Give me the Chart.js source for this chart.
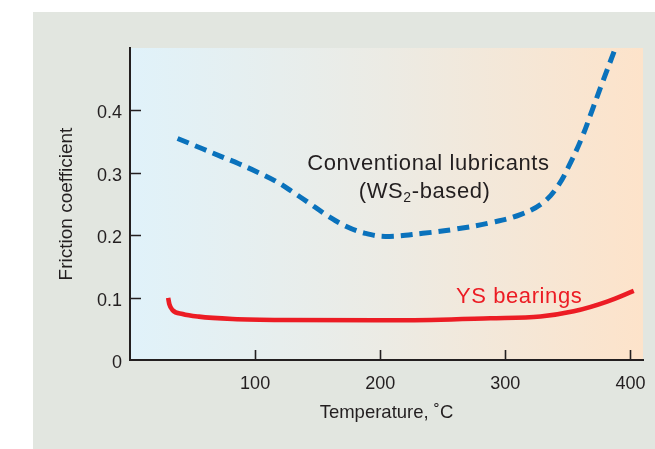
<!DOCTYPE html>
<html>
<head>
<meta charset="utf-8">
<script src="https://cdn.jsdelivr.net/npm/chart.js@4/dist/chart.umd.min.js"></script>
<style>
  html, body { margin: 0; padding: 0; background: #ffffff; }
  canvas { display: block; }
</style>
</head>
<body>
<canvas id="chart" width="655" height="449"></canvas>
<script>
// Axis ticks
const tempTicks = [100, 200, 300, 400];
const frictionTicks = [0, 0.1, 0.2, 0.3, 0.4];

// Conventional lubricants (WS2-based): temperature (°C) and friction coefficient
const wsTemp     = [38, 58, 73, 87, 102, 117, 131, 145, 158, 173, 188, 204, 234, 261, 288, 312, 330, 342, 352, 361.5, 369.5, 377.6, 388];
const wsFriction = [0.355, 0.3385, 0.326, 0.3145, 0.301, 0.286, 0.268, 0.249, 0.231, 0.214, 0.203, 0.198, 0.203, 0.210, 0.220, 0.233, 0.252, 0.279, 0.316, 0.358, 0.401, 0.445, 0.5];

// YS bearings
const ysTemp     = [30.5, 31.5, 34, 42, 55, 82, 122, 216, 288, 328, 354.6, 381.3, 402.6];
const ysFriction = [0.0995, 0.089, 0.080, 0.0738, 0.0695, 0.0658, 0.0642, 0.0637, 0.0669, 0.0698, 0.078, 0.0936, 0.1108];

const INK = '#231f20';
const BLUE = '#0a72bc';
const RED = '#ec1c24';
const FONT = "'Liberation Sans', Arial, Helvetica, sans-serif";

const toPoints = (xs, ys) => xs.map((x, i) => ({ x: x, y: ys[i] }));

// Grey panel behind the figure and the blue-to-peach wash of the plot area
const backdrop = {
  id: 'backdrop',
  beforeDraw(chart) {
    const { ctx, chartArea: a } = chart;
    ctx.save();
    ctx.fillStyle = '#e2e6e0';
    ctx.fillRect(33, 12, chart.width - 33, chart.height - 12);
    const g = ctx.createLinearGradient(a.left, 0, a.right, 0);
    g.addColorStop(0, '#e0f2fa');
    g.addColorStop(0.5, '#ecebe4');
    g.addColorStop(1, '#fde3ca');
    ctx.fillStyle = g;
    ctx.fillRect(a.left, a.top, a.right - a.left, a.bottom - a.top);
    ctx.restore();
  }
};

// Short tick marks pointing into the plot area
const innerTicks = {
  id: 'innerTicks',
  afterDraw(chart) {
    const { ctx, chartArea: a, scales } = chart;
    ctx.save();
    ctx.strokeStyle = INK;
    ctx.lineWidth = 1.6;
    ctx.beginPath();
    frictionTicks.forEach(v => {
      if (v === 0) return;
      const y = Math.round(scales.y.getPixelForValue(v)) + 0.5;
      ctx.moveTo(a.left, y);
      ctx.lineTo(a.left + 11, y);
    });
    tempTicks.forEach(v => {
      const x = Math.round(scales.x.getPixelForValue(v)) + 0.5;
      ctx.moveTo(x, a.bottom);
      ctx.lineTo(x, a.bottom - 10);
    });
    ctx.stroke();
    ctx.restore();
  }
};

// Curve names written beside each line
const curveLabels = {
  id: 'curveLabels',
  afterDraw(chart) {
    const { ctx, scales } = chart;
    const px = v => scales.x.getPixelForValue(v);
    const py = v => scales.y.getPixelForValue(v);
    ctx.save();
    if ('letterSpacing' in ctx) ctx.letterSpacing = '0.6px';
    ctx.textBaseline = 'alphabetic';
    ctx.font = '22px ' + FONT;
    ctx.fillStyle = INK;
    ctx.textAlign = 'center';
    ctx.fillText('Conventional lubricants', px(238.5), py(0.305));

    // second line with subscript 2
    const cx = px(235.5), base = py(0.26);
    const mainFont = '22px ' + FONT, subFont = '14px ' + FONT;
    ctx.textAlign = 'left';
    ctx.font = mainFont; const w1 = ctx.measureText('(WS').width;
    const w3 = ctx.measureText('-based)').width;
    ctx.font = subFont; const w2 = ctx.measureText('2').width;
    let x = cx - (w1 + w2 + w3) / 2;
    ctx.font = mainFont; ctx.fillText('(WS', x, base); x += w1;
    ctx.font = subFont; ctx.fillText('2', x, base + 4); x += w2;
    ctx.font = mainFont; ctx.fillText('-based)', x, base);

    ctx.fillStyle = RED;
    ctx.textAlign = 'center';
    ctx.font = mainFont;
    ctx.fillText('YS bearings', px(311), py(0.091));
    ctx.restore();
  }
};

Chart.defaults.font.family = FONT;
Chart.defaults.color = INK;

new Chart(document.getElementById('chart'), {
  type: 'line',
  data: {
    datasets: [
      {
        label: 'Conventional lubricants (WS2-based)',
        data: toPoints(wsTemp, wsFriction),
        borderColor: BLUE,
        borderWidth: 5,
        borderDash: [12, 7],
        borderCapStyle: 'butt',
        tension: 0.4,
        pointRadius: 0,
        fill: false,
        clip: 0
      },
      {
        label: 'YS bearings',
        data: toPoints(ysTemp, ysFriction),
        borderColor: RED,
        borderWidth: 4.6,
        borderCapStyle: 'butt',
        cubicInterpolationMode: 'monotone',
        pointRadius: 0,
        fill: false
      }
    ]
  },
  options: {
    responsive: false,
    animation: false,
    devicePixelRatio: 1,
    layout: { padding: { left: 0, top: 48, right: 12, bottom: 0 } },
    plugins: { legend: { display: false }, tooltip: { enabled: false } },
    scales: {
      x: {
        type: 'linear',
        min: 0,
        max: 410,
        grid: { display: false, drawTicks: false },
        border: { display: true, color: INK, width: 2 },
        ticks: { font: { size: 18 }, color: INK, padding: 13, maxRotation: 0 },
        afterBuildTicks: s => { s.ticks = tempTicks.map(v => ({ value: v })); },
        afterFit: s => { s.height = 89; s.paddingLeft = 0; s.paddingRight = 0; },
        title: {
          display: true,
          text: 'Temperature, ˚C',
          font: { size: 18.5 },
          color: INK,
          padding: { top: 0, bottom: 25 }
        }
      },
      y: {
        type: 'linear',
        min: 0,
        max: 0.5,
        grid: { display: false, drawTicks: false },
        border: { display: true, color: INK, width: 2 },
        ticks: {
          font: { size: 18 },
          color: INK,
          padding: 8,
          labelOffset: 3,
          callback: v => String(v)
        },
        afterBuildTicks: s => { s.ticks = frictionTicks.map(v => ({ value: v })); },
        afterFit: s => { s.width = 130; s.paddingTop = 0; s.paddingBottom = 0; },
        title: {
          display: true,
          text: 'Friction coefficient',
          font: { size: 19 },
          color: INK,
          padding: { top: 55, bottom: 0 }
        }
      }
    }
  },
  plugins: [backdrop, innerTicks, curveLabels]
});
</script>
</body>
</html>
